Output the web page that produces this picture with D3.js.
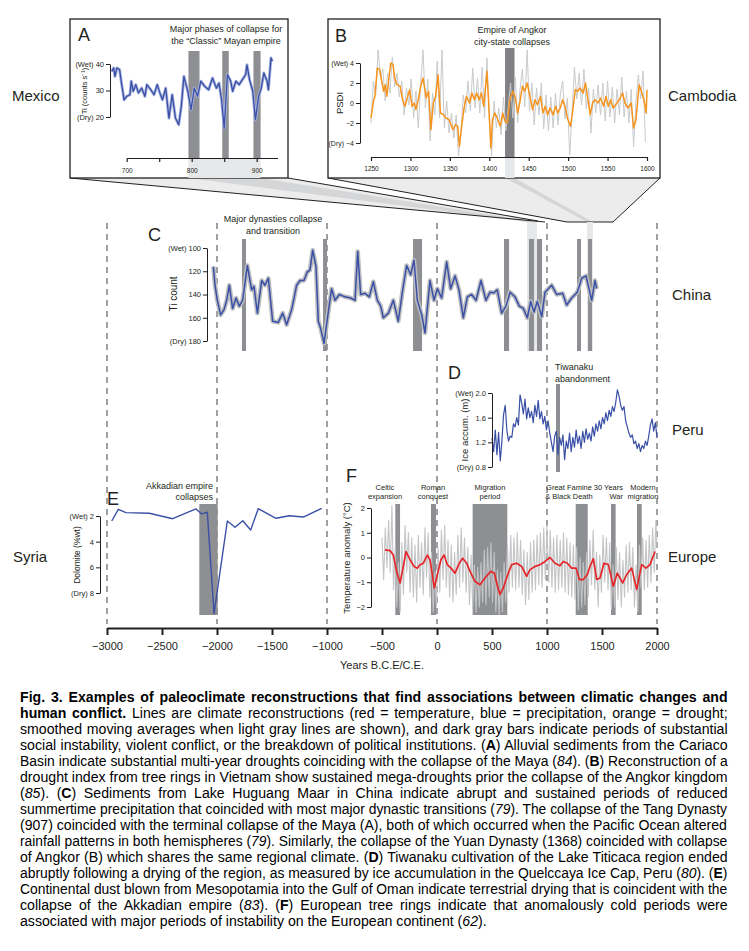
<!DOCTYPE html>
<html>
<head>
<meta charset="utf-8">
<script src="https://cdn.jsdelivr.net/npm/d3@7"></script>
<style>
body { margin: 0; background: #fff; }
svg { display: block; }
</style>
</head>
<body>
<svg width="749" height="951"></svg>
<script>
// ---- data ----
// A: Cariaco basin Ti (counts/s), year CE
const mayaTi = [[677,37.2],[680,38.5],[682,35.3],[685,38.5],[689,37.9],[692,32.8],[696,26.5],[700,27.8],[705,28.4],[707,33.5],[710,29.7],[714,32.2],[718,29.1],[723,30.9],[728,27.8],[731,32.2],[737,30.3],[742,28.4],[747,32.2],[751,29.1],[755,26.5],[760,30.9],[765,19.6],[770,28.4],[775,19.6],[780,17.1],[784,24.0],[788,35.3],[794,29.7],[799,22.8],[804,30.9],[809,27.8],[814,33.5],[820,31.6],[826,30.3],[832,34.7],[838,30.9],[842,32.8],[846,26.5],[850,15.8],[855,36.0],[860,33.5],[863,29.7],[868,33.5],[873,32.2],[878,34.1],[883,36.0],[885,39.7],[889,34.1],[894,29.7],[898,19.0],[903,27.8],[907,30.9],[911,36.6],[916,33.5],[918,30.3],[922,42.3],[924,41.0]];
const mayaBars = [[795,812],[847,857],[895,906]];

// B: Vietnam PDSI, smoothed (orange) and annual (gray, every 3 yr from 1250)
const angkorPdsi = [[1250,-1.5],[1253,0.17],[1255,0.67],[1258,3.5],[1261,3.33],[1264,2.0],[1266,1.17],[1268,1.83],[1270,0.67],[1272,2.0],[1275,4.0],[1278,3.83],[1280,2.5],[1283,1.83],[1287,1.67],[1290,0.33],[1293,-0.33],[1296,0.5],[1299,1.33],[1302,-0.33],[1305,0],[1307,-0.67],[1310,0.33],[1313,1.67],[1316,2.5],[1320,0.5],[1323,1.17],[1326,-2.67],[1329,0],[1332,0.67],[1335,2.83],[1338,-1.0],[1342,-1.17],[1345,-1.5],[1349,-1.67],[1354,-2.67],[1357,-2.17],[1360,-2.33],[1362,-4.33],[1365,-2.33],[1368,-0.5],[1371,0.67],[1375,0],[1378,1.0],[1381,0.33],[1384,1.0],[1387,0.33],[1390,1.0],[1393,-0.33],[1397,3.17],[1399,0.33],[1402,-4.5],[1404,-1.67],[1407,-1.0],[1410,-1.5],[1414,-2.33],[1417,-1.0],[1420,-1.83],[1423,-2.0],[1426,0.33],[1430,1.17],[1433,0.5],[1436,-1.0],[1439,0.17],[1442,1.67],[1445,1.17],[1448,2.0],[1452,0.5],[1455,-0.67],[1458,0.33],[1461,-0.17],[1465,0.67],[1468,-1.0],[1471,-0.33],[1474,-1.17],[1477,-0.5],[1481,-1.17],[1484,-0.33],[1487,-1.0],[1490,-0.5],[1493,0.33],[1496,-0.33],[1499,-1.5],[1503,-2.33],[1506,-0.67],[1509,1.33],[1512,1.17],[1515,1.5],[1519,1.0],[1522,2.0],[1525,0.33],[1528,-1.17],[1531,0],[1534,0.33],[1538,0],[1541,0.5],[1545,-0.33],[1548,0.67],[1551,-0.33],[1554,0.33],[1557,-0.5],[1562,0],[1566,0.5],[1569,1.0],[1572,0],[1576,-0.5],[1580,0],[1583,-2.5],[1586,-1.67],[1590,1.83],[1593,1.17],[1596,0.33],[1599,-1.0],[1600,1.33]];
const angkorRaw = [-2.0,2.2,0.8,5.3,2.5,3.4,0.2,3.0,1.0,4.6,1.6,3.0,0.6,2.2,-1.2,1.5,-0.2,2.4,-1.5,1.2,-2.5,2.0,5.3,-0.5,2.4,-3.8,1.0,-1.2,4.2,-1.5,5.3,-2.5,0.2,-3.0,-1.0,-3.5,-1.2,-5.3,-3.0,0.8,-1.0,2.2,-0.8,3.5,-0.5,2.5,-1.0,3.6,-1.5,4.5,-1.5,-5.3,0.2,-2.5,-0.5,-3.2,0.6,-2.8,-0.5,2.0,-1.5,2.6,-2.0,1.4,3.4,-0.4,5.3,-0.8,2.0,-2.2,1.5,-1.2,2.0,-2.6,0.8,-2.8,0.6,-2.5,1.0,-2.2,0.8,2.2,-1.6,0.5,-5.2,-1.0,3.6,0.4,3.0,-0.2,3.4,-0.6,1.5,-3.0,1.4,-1.0,1.8,-1.2,2.0,-1.8,2.2,-1.4,1.6,-2.0,1.4,-1.2,2.6,-1.4,1.2,-2.0,1.4,-4.4,0.2,2.8,0.4,3.2,-3.9];
const angkorBars = [[1420,1432]];

// C: Huguang Maar Ti count
const huguangTi = [[-2033,116],[-2018,132],[-1997,145],[-1967,157.5],[-1936,153],[-1912,145],[-1888,132],[-1858,152],[-1827,143],[-1797,150],[-1767,145],[-1724,115],[-1685,136],[-1664,133],[-1633,156],[-1594,128],[-1564,132],[-1533,126],[-1494,163],[-1443,164],[-1403,156],[-1367,166],[-1321,153],[-1276,132],[-1245,128],[-1209,128],[-1179,120.5],[-1155,119],[-1130,102],[-1100,116],[-1079,163],[-1058,169],[-1027,182],[-994,159],[-958,135],[-927,145],[-888,140],[-836,142],[-785,143],[-745,145],[-721,103],[-694,140],[-655,139],[-615,142],[-579,129],[-542,145],[-512,150],[-488,160],[-442,156],[-397,145],[-352,163],[-312,136],[-276,115],[-239,123],[-209,110.5],[-179,145],[-139,157.5],[-109,173],[-64,128],[-27,145],[3,135],[42,143],[88,112],[124,135],[164,124],[200,136],[239,160],[276,142],[315,140],[355,145],[400,128],[445,145],[482,138],[518,138.5],[548,136],[588,156],[627,150],[664,138],[709,142],[748,150],[785,152],[821,160],[852,146],[882,155],[912,146],[952,159],[982,138],[1042,132],[1088,140],[1142,139],[1179,149],[1224,143],[1276,138],[1315,126],[1355,124],[1406,145],[1436,128],[1452,135]];
const huguangBars = [[-1773,-1736],[-1036,-1000],[-218,-136],[609,655],[836,882],[909,955],[1273,1309],[1373,1409]];

// D: Quelccaya ice accumulation (m)
const quelccaya = [[500,1.27],[515,1.05],[530,1.40],[545,1.00],[560,1.36],[575,0.90],[590,1.22],[605,1.65],[620,1.80],[635,1.40],[650,1.22],[665,1.30],[680,1.28],[695,1.50],[710,1.45],[725,1.60],[740,1.48],[755,1.97],[770,1.84],[785,1.66],[800,1.90],[815,1.58],[830,1.76],[845,1.60],[860,1.70],[875,1.52],[890,1.80],[905,1.62],[920,1.88],[935,1.58],[950,1.70],[965,1.50],[980,1.62],[995,1.40],[1010,1.55],[1025,1.35],[1040,1.20],[1055,1.05],[1070,1.30],[1085,1.38],[1100,1.00],[1115,1.28],[1130,1.15],[1145,1.32],[1160,0.92],[1175,1.22],[1190,1.10],[1205,1.35],[1220,1.05],[1235,1.28],[1250,1.12],[1265,1.40],[1280,1.18],[1295,1.30],[1310,1.10],[1325,1.38],[1340,1.20],[1355,1.42],[1370,1.25],[1385,1.35],[1400,1.22],[1415,1.45],[1430,1.30],[1445,1.50],[1460,1.38],[1475,1.55],[1490,1.42],[1505,1.60],[1520,1.50],[1535,1.68],[1550,1.55],[1565,1.72],[1580,1.62],[1595,1.78],[1610,1.70],[1625,1.85],[1640,2.05],[1655,1.95],[1670,1.80],[1685,1.72],[1700,1.78],[1715,1.55],[1730,1.45],[1745,1.35],[1760,1.28],[1775,1.32],[1790,1.18],[1805,1.22],[1820,1.10],[1835,1.18],[1850,1.05],[1865,1.15],[1880,1.10],[1895,1.22],[1910,1.15],[1925,1.30],[1940,1.48],[1955,1.58],[1970,1.38],[1985,1.52],[2000,1.28]];
const quelccayaBars = [[1082,1118]];

// E: Gulf of Oman dolomite (%wt)
const dolomite = [[-2957,2.39],[-2897,1.48],[-2827,1.74],[-2615,1.79],[-2403,2.21],[-2191,1.45],[-2139,1.84],[-2088,1.71],[-2027,9.6],[-1906,2.39],[-1836,2.88],[-1766,2.37],[-1694,3.09],[-1625,1.43],[-1464,2.18],[-1343,1.98],[-1215,2.08],[-1048,1.40]];
const dolomiteBars = [[-2161,-1994]];

// F: European temperature anomaly, smoothed (red) and raw (gray, every 15 yr from -500)
const euroSmooth = [[-473,0.31],[-427,0.28],[-397,0.1],[-367,-0.56],[-336,-1.03],[-306,-0.36],[-282,0.24],[-245,-0.09],[-209,-0.36],[-179,-0.43],[-155,-0.29],[-124,-0.23],[-88,0.1],[-64,-0.09],[-24,-1.23],[3,-0.69],[36,-0.09],[64,0.1],[94,-0.29],[127,-0.43],[164,-0.63],[203,-0.23],[233,-0.03],[270,-0.23],[300,-0.56],[345,-0.96],[391,-1.1],[436,-0.83],[488,-0.56],[521,-0.63],[558,-1.29],[573,-1.49],[603,-1.23],[648,-0.63],[679,-0.29],[724,-0.23],[770,-0.36],[815,-0.76],[845,-0.49],[891,-0.36],[936,-0.29],[982,-0.16],[1027,0],[1073,-0.23],[1118,-0.33],[1148,-0.16],[1185,-0.23],[1224,-0.43],[1264,-0.43],[1294,-0.89],[1330,-0.89],[1367,-0.69],[1391,-0.36],[1421,-0.05],[1452,-0.89],[1482,-0.83],[1518,-0.23],[1558,-0.29],[1603,-1.16],[1639,-0.63],[1688,-1.03],[1724,-0.69],[1770,-0.43],[1815,-1.29],[1861,-0.29],[1900,-0.43],[1936,-0.29],[1982,0.24]];
const euroRaw = [0.8,-0.9,1.2,-0.4,1.5,-0.6,2.1,-1.3,0.4,-2.0,-0.2,-2.2,0.6,-1.5,1.3,-0.6,1.0,-1.4,0.8,-1.6,0.5,-1.8,0.9,-1.2,0.6,-1.5,1.2,-0.8,1.0,-1.6,0.2,-2.2,-0.6,-2.0,0.4,-1.4,1.1,-0.9,1.3,-1.2,0.7,-1.6,0.5,-1.8,0.2,-1.5,0.9,-1.2,1.2,-1.0,0.8,-1.4,0.4,-1.9,0.1,-2.1,-0.3,-2.2,-0.4,-2.0,-0.2,-1.8,0.3,-1.9,0.4,-1.6,0.6,-1.8,0.2,-2.2,-0.5,-2.3,-0.6,-2.2,-0.2,-1.8,0.5,-1.4,0.9,-1.2,0.8,-1.3,1.0,-1.2,0.7,-1.5,0.3,-1.9,0.2,-1.7,0.6,-1.4,0.7,-1.3,0.9,-1.1,1.0,-1.2,1.2,-0.9,1.3,-1.0,1.1,-1.2,0.8,-1.4,0.9,-1.3,0.7,-1.2,1.0,-1.4,0.8,-1.5,0.6,-1.6,0.5,-1.7,0.4,-2.1,0.0,-2.0,-0.2,-1.9,0.2,-1.6,0.7,-1.1,1.1,-1.3,0.2,-2.0,0.1,-1.4,0.9,-1.0,0.8,-1.3,0.6,-2.1,-0.3,-2.0,0.4,-1.7,0.2,-2.0,-0.1,-1.6,0.5,-1.4,0.6,-1.3,0.4,-2.0,-0.3,-2.2,0.5,-1.2,0.8,-1.3,0.7,-1.2,0.9,-1.0,1.2,-0.6,1.5,0.4];
const euroBars = [[-379,-336],[-55,-9],[324,639],[1261,1370],[1582,1624],[1818,1861]];
const euroEvents = [["Celtic","expansion"],["Roman","conquest"],["Migration","period"],["Great Famine","& Black Death"],["30 Years","War"],["Modern","migration"]];

const mainTicks = d3.range(-3000, 2001, 500);

// caption lines: [style, text] pieces, b = bold, i = italic
const caption = [
  [["b","Fig. 3. Examples of paleoclimate reconstructions that find associations between climatic changes and"]],
  [["b","human conflict."],["n"," Lines are climate reconstructions (red = temperature, blue = precipitation, orange = drought;"]],
  [["n","smoothed moving averages when light gray lines are shown), and dark gray bars indicate periods of substantial"]],
  [["n","social instability, violent conflict, or the breakdown of political institutions. ("],["b","A"],["n",") Alluvial sediments from the Cariaco"]],
  [["n","Basin indicate substantial multi-year droughts coinciding with the collapse of the Maya ("],["i","84"],["n","). ("],["b","B"],["n",") Reconstruction of a"]],
  [["n","drought index from tree rings in Vietnam show sustained mega-droughts prior the collapse of the Angkor kingdom"]],
  [["n","("],["i","85"],["n","). ("],["b","C"],["n",") Sediments from Lake Huguang Maar in China indicate abrupt and sustained periods of reduced"]],
  [["n","summertime precipitation that coincided with most major dynastic transitions ("],["i","79"],["n","). The collapse of the Tang Dynasty"]],
  [["n","(907) coincided with the terminal collapse of the Maya (A), both of which occurred when the Pacific Ocean altered"]],
  [["n","rainfall patterns in both hemispheres ("],["i","79"],["n","). Similarly, the collapse of the Yuan Dynasty (1368) coincided with collapse"]],
  [["n","of Angkor (B) which shares the same regional climate. ("],["b","D"],["n",") Tiwanaku cultivation of the Lake Titicaca region ended"]],
  [["n","abruptly following a drying of the region, as measured by ice accumulation in the Quelccaya Ice Cap, Peru ("],["i","80"],["n","). ("],["b","E"],["n",")"]],
  [["n","Continental dust blown from Mesopotamia into the Gulf of Oman indicate terrestrial drying that is coincident with the"]],
  [["n","collapse of the Akkadian empire ("],["i","83"],["n","). ("],["b","F"],["n",") European tree rings indicate that anomalously cold periods were"]],
  [["n","associated with major periods of instability on the European continent ("],["i","62"],["n",")."]]
];

// ---- drawing ----
const FONT = "'Liberation Sans', Arial, Helvetica, sans-serif";
const INK = "#231f20", BAR = "#8e8f92", LIGHT = "#e6e7e8", BAND = "#d5d6d8";
const BLUE = "#3a50a6", ORANGE = "#f7941d", RED = "#e5262a", GRAY = "#c3c4c6";

const svg = d3.select("svg");
const x = d3.scaleLinear().domain([-3000, 2000]).range([107, 657]);

const xA = d3.scaleLinear().domain([700, 932]).range([126.7, 277.5]);
const yA = d3.scaleLinear().domain([20, 40]).range([117, 64]);
const xB = d3.scaleLinear().domain([1250, 1600]).range([371, 647]);
const yB = d3.scaleLinear().domain([-4, 4]).range([143, 63]);
const yC = d3.scaleLinear().domain([100, 180]).range([248, 341]);
const yD = d3.scaleLinear().domain([0.8, 2.0]).range([467, 393]);
const yE = d3.scaleLinear().domain([2, 8]).range([516, 593]);
const yF = d3.scaleLinear().domain([-2, 2]).range([607, 508]);

const defs = svg.append("defs");
function clip(id, x0, y0, w, h) {
  defs.append("clipPath").attr("id", id).append("rect").attr("x", x0).attr("y", y0).attr("width", w).attr("height", h);
  return "url(#" + id + ")";
}

function txt(g, x0, y0, s, size, anchor) {
  return g.append("text").attr("x", x0).attr("y", y0).attr("font-size", size)
    .attr("font-family", FONT).attr("fill", INK).attr("text-anchor", anchor || "start").text(s);
}

function bars(g, data, xs, y0, y1, fill) {
  g.append("g").selectAll("rect").data(data).join("rect")
    .attr("x", d => xs(d[0])).attr("width", d => xs(d[1]) - xs(d[0]))
    .attr("y", y0).attr("height", y1 - y0).attr("fill", fill);
}

function path(g, data, xs, ys, color, w, clipUrl) {
  const p = g.append("path").datum(data)
    .attr("d", d3.line().x(d => xs(d[0])).y(d => ys(d[1])))
    .attr("fill", "none").attr("stroke", color).attr("stroke-width", w)
    .attr("stroke-linejoin", "round");
  if (clipUrl) p.attr("clip-path", clipUrl);
  return p;
}

function yAxis(g, xPos, scale, ticks, fmt, size) {
  const a = g.append("g").attr("transform", `translate(${xPos},0)`)
    .call(d3.axisLeft(scale).tickValues(ticks).tickSize(4).tickSizeOuter(0).tickPadding(2).tickFormat(fmt));
  a.attr("font-family", FONT).attr("font-size", size);
  a.selectAll("path,line").attr("stroke", INK).attr("stroke-width", 1);
  a.selectAll("text").attr("fill", INK);
  return a;
}

function rotLabel(g, x0, y0, s, size) {
  return g.append("text").attr("transform", `translate(${x0},${y0}) rotate(-90)`)
    .attr("text-anchor", "middle").attr("font-size", size).attr("font-family", FONT)
    .attr("fill", INK).text(s);
}

const fmtInt = d3.format("d");

// dashed millennium guides
svg.append("g").selectAll("line").data(d3.range(-3000, 2001, 1000)).join("line")
  .attr("x1", d => x(d)).attr("x2", d => x(d)).attr("y1", 223).attr("y2", 624)
  .attr("stroke", "#6d6e71").attr("stroke-width", 1.3).attr("stroke-dasharray", "6,5");

// connectors from the inset boxes down to panel C
const con = svg.append("g");
con.append("polygon").attr("points", "70,178 288,178 538,221 545,222").attr("fill", "#ececed");
con.append("polygon").attr("points", `${xA(795)},178 ${xA(906)},178 537,222 527,222`).attr("fill", BAND);
con.append("polygon").attr("points", "328,178 660,178 613,222 567,222").attr("fill", "#ececed");
con.append("polygon").attr("points", `${xB(1420)},178 ${xB(1432)},178 593,222 587,222`).attr("fill", BAND);
con.append("path").attr("d", "M70,178L545,222M288,178L538,221M328,178L567,222L613,222L660,178")
  .attr("fill", "none").attr("stroke", INK).attr("stroke-width", 1);
con.append("rect").attr("x", 527).attr("y", 222).attr("width", 10).attr("height", 129).attr("fill", LIGHT);
con.append("rect").attr("x", 587).attr("y", 222).attr("width", 6).attr("height", 129).attr("fill", LIGHT);

// country names
[["Mexico", 12, 101], ["Cambodia", 668, 101], ["China", 672, 300],
 ["Peru", 672, 435], ["Syria", 13, 562], ["Europe", 668, 562]]
  .forEach(d => txt(svg, d[1], d[2], d[0], 15));

// ---- panel A ----
const gA = svg.append("g");
gA.append("rect").attr("x", 70).attr("y", 19).attr("width", 218).attr("height", 159)
  .attr("fill", "#fff").attr("stroke", INK).attr("stroke-width", 1.3);
gA.append("rect").attr("x", xA(795)).attr("y", 158).attr("width", xA(906) - xA(795)).attr("height", 20).attr("fill", LIGHT);
bars(gA, mayaBars, xA, 51, 158, BAR);
path(gA, mayaTi, xA, yA, "#a9b4df", 3);
path(gA, mayaTi, xA, yA, BLUE, 1.3);
yAxis(gA, 110, yA, [20, 30, 40], d => d === 40 ? "(Wet) 40" : d === 20 ? "(Dry) 20" : d, 7.5);
rotLabel(gA, 87, 91, "Ti (counts s\u207B\u00B9)", 7.5);
const axA = gA.append("g").attr("transform", "translate(0,158)")
  .call(d3.axisBottom(xA).tickValues(d3.range(700, 901, 50)).tickSize(4).tickSizeOuter(0)
    .tickFormat(d => d % 100 === 0 ? d : ""));
axA.attr("font-family", FONT).attr("font-size", 6.5);
axA.selectAll("path,line").attr("stroke", INK).attr("stroke-width", 1.2);
axA.selectAll("text").attr("fill", INK).attr("dy", "1.2em");
txt(gA, 78, 41, "A", 18);
txt(gA, 226, 32, "Major phases of collapse for", 9, "middle");
txt(gA, 226, 44, "the \u201CClassic\u201D Mayan empire", 9, "middle");

// ---- panel B ----
const gB = svg.append("g");
gB.append("rect").attr("x", 328).attr("y", 19).attr("width", 332).attr("height", 159)
  .attr("fill", "#fff").attr("stroke", INK).attr("stroke-width", 1.3);
gB.append("rect").attr("x", xB(1420)).attr("y", 157).attr("width", xB(1432) - xB(1420)).attr("height", 21).attr("fill", LIGHT);
bars(gB, angkorBars, xB, 48, 157, "#808184");
const clipB = clip("clipB", 360, 49, 300, 108);
const rawB = angkorRaw.map((v, i) => [Math.min(1250 + i * 3, 1600), v]);
path(gB, rawB, xB, yB, "#c9cacc", 1, clipB);
path(gB, angkorPdsi, xB, yB, ORANGE, 1.5, clipB);
yAxis(gB, 360, yB, [-4, -2, 0, 2, 4], d => d === 4 ? "(Wet) 4" : d === -4 ? "(Dry) \u22124" : fmtInt(d), 7);
rotLabel(gB, 343, 103, "PSDI", 9.5);
const axB = gB.append("g").attr("transform", "translate(0,157)")
  .call(d3.axisBottom(xB).tickValues(d3.range(1250, 1601, 50)).tickSize(4).tickSizeOuter(0).tickFormat(fmtInt));
axB.attr("font-family", FONT).attr("font-size", 6.5);
axB.selectAll("path,line").attr("stroke", INK).attr("stroke-width", 1.2);
axB.selectAll("text").attr("fill", INK).attr("dy", "1.1em");
txt(gB, 335, 42, "B", 18);
txt(gB, 512, 33, "Empire of Angkor", 9, "middle");
txt(gB, 512, 45, "city-state collapses", 9, "middle");

// ---- panel C ----
const gC = svg.append("g");
bars(gC, huguangBars, x, 239, 351, BAR);
path(gC, huguangTi, x, yC, "#bcbdbf", 4.5);
path(gC, huguangTi, x, yC, BLUE, 1.5);
yAxis(gC, 207, yC, [100, 120, 140, 160, 180], d => d === 100 ? "(Wet) 100" : d === 180 ? "(Dry) 180" : d, 7.5);
rotLabel(gC, 177, 294, "Ti count", 10);
txt(gC, 148, 241, "C", 18);
txt(gC, 273, 222, "Major dynasties collapse", 9, "middle");
txt(gC, 273, 234, "and transition", 9, "middle");

// ---- panel D ----
const gD = svg.append("g");
bars(gD, quelccayaBars, x, 384, 472, BAR);
path(gD, quelccaya, x, yD, BLUE, 1.2);
yAxis(gD, 492, yD, [0.8, 1.2, 1.6, 2.0], d => d === 2 ? "(Wet) 2.0" : d === 0.8 ? "(Dry) 0.8" : d3.format(".1f")(d), 7.5);
rotLabel(gD, 468, 430, "Ice accum. (m)", 9.5);
txt(gD, 448, 379, "D", 18);
txt(gD, 555, 370, "Tiwanaku", 9);
txt(gD, 555, 382, "abandonment", 9);

// ---- panel E ----
const gE = svg.append("g");
bars(gE, dolomiteBars, x, 504, 615, BAR);
path(gE, dolomite, x, yE, BLUE, 1.4);
yAxis(gE, 100, yE, [2, 4, 6, 8], d => d === 2 ? "(Wet) 2" : d === 8 ? "(Dry) 8" : d, 7.5);
rotLabel(gE, 80, 555, "Dolomite (%wt)", 8.5);
txt(gE, 107, 505, "E", 18);
txt(gE, 213, 489, "Akkadian empire", 9, "end");
txt(gE, 213, 500, "collapses", 9, "end");

// ---- panel F ----
const gF = svg.append("g");
bars(gF, euroBars, x, 504, 615, BAR);
const clipF = clip("clipF", 371, 503, 290, 112);
const rawF = euroRaw.map((v, i) => [Math.min(-500 + i * 15, 2000), v]);
path(gF, rawF, x, yF, GRAY, 1.1, clipF);
path(gF, euroSmooth, x, yF, RED, 1.7);
yAxis(gF, 371, yF, [-2, -1, 0, 1, 2], fmtInt, 7.5);
rotLabel(gF, 350, 558, "Temperature anomaly (\u00B0C)", 9.5);
txt(gF, 346, 482, "F", 18);
const evX = [385, 433, 490, 569, 623, 643];
euroEvents.forEach((d, i) => {
  const anchor = i === 4 ? "end" : "middle";
  txt(gF, evX[i], 490, d[0], 7.5, anchor);
  txt(gF, evX[i], 499, d[1], 7.5, anchor);
});

// ---- main time axis ----
const axM = svg.append("g").attr("transform", "translate(0,628)")
  .call(d3.axisBottom(x).tickValues(mainTicks).tickSize(7).tickSizeOuter(0).tickPadding(7).tickFormat(fmtInt));
axM.attr("font-family", FONT).attr("font-size", 11);
axM.selectAll("path,line").attr("stroke", INK).attr("stroke-width", 2);
axM.selectAll("text").attr("fill", INK);
txt(svg, 382, 669, "Years B.C.E/C.E.", 11, "middle");

// ---- caption (Liberation Sans squeezed horizontally, justified) ----
const capLeft = 20, capWidth = 708;
const capText = caption.map((segs, i) => {
  const t = svg.append("text").attr("x", 0).attr("y", 0)
    .attr("font-family", FONT).attr("font-size", 15.5).attr("fill", "#000");
  segs.forEach(([s, str]) => {
    const sp = t.append("tspan").text(str);
    if (s === "b") sp.attr("font-weight", "bold");
    if (s === "i") sp.attr("font-style", "italic");
  });
  return t;
});
const widths = capText.map(t => t.node().getComputedTextLength());
// common squeeze: median of the fit ratios of the justified plain lines
const ratios = widths.slice(2, -1).map(w => capWidth / w).sort((a, b) => a - b);
const squeeze = ratios[Math.floor(ratios.length / 2)];
capText.forEach((t, i) => {
  const w = widths[i];
  const last = i === capText.length - 1;
  const k = last ? squeeze : Math.min(squeeze, capWidth / w);
  t.attr("transform", `translate(${capLeft},${702 + i * 16}) scale(${k},1)`);
  if (!last) {
    const spaces = (t.text().match(/ /g) || []).length;
    const extra = capWidth / k - w;
    if (extra > 0.5 && spaces) t.attr("word-spacing", extra / spaces);
  }
});
</script>
</body>
</html>
